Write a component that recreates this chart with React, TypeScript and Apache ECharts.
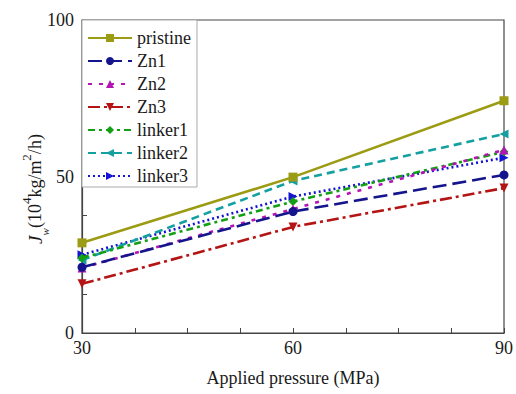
import React, { useEffect, useRef } from "react";
import * as echarts from "echarts";

const pressures = [30, 60, 90];
const seriesNames = ["pristine", "Zn1", "Zn2", "Zn3", "linker1", "linker2", "linker3"];
const pristine = [28.8, 49.8, 74.2];
const zn1 = [21.0, 38.8, 50.5];
const zn2 = [20.8, 39.6, 58.5];
const zn3 = [15.7, 33.9, 46.3];
const linker1 = [24.0, 42.0, 57.9];
const linker2 = [23.3, 48.6, 63.6];
const linker3 = [25.0, 43.6, 56.0];
const xTicks = [30, 60, 90];
const yTicks = [0, 50, 100];

const allValues = [pristine, zn1, zn2, zn3, linker1, linker2, linker3];
const colors = ["#9b9b14", "#14148c", "#b414b4", "#b41414", "#14a014", "#14a0a0", "#1414d2"];
const symbols = ["rect", "circle", "triangle", "path://M0,0 L10,0 L5,10 Z", "diamond", "path://M10,0 L10,10 L0,5 Z", "path://M0,0 L10,5 L0,10 Z"];
const dashes: any[] = ["solid", [14, 6], [4, 7], [12, 4, 3, 4], [7, 4, 3, 4], [8, 5], [2, 3]];

const FONT = "Liberation Serif";
const TXT = "#1a1a1a";

export default function App() {
  const ref = useRef<HTMLDivElement>(null);
  useEffect(() => {
    if (!ref.current) return;
    const chart = echarts.init(ref.current, null, { renderer: "svg" });
    chart.setOption({
      animation: false,
      backgroundColor: "#fff",
      textStyle: { fontFamily: FONT },
      grid: {
        left: 82,
        top: 20,
        right: 12,
        bottom: 61,
        show: true,
        borderColor: "#444",
        borderWidth: 1.2,
      },
      legend: {
        left: 82,
        top: 20,
        orient: "vertical",
        data: seriesNames,
        itemWidth: 44,
        itemHeight: 10,
        itemGap: 5,
        padding: [9, 6, 2, 5],
        borderColor: "#aaa",
        borderWidth: 1,
        backgroundColor: "#fff",
        textStyle: { fontFamily: FONT, fontSize: 18, color: TXT, lineHeight: 18 },
      },
      graphic: [
        {
          type: "text",
          x: 35,
          y: 189,
          rotation: Math.PI / 2,
          style: {
            text: "{i|J}{sub|w}{n|(10}{sup|4}{n|kg/m}{sup|2}{n|/h)}",
            align: "center",
            verticalAlign: "middle",
            fontFamily: FONT,
            fontSize: 18,
            fill: TXT,
            rich: {
              i: { fontFamily: FONT, fontSize: 19, fontStyle: "italic", lineHeight: 30, verticalAlign: "middle", fill: TXT },
              sub: { fontFamily: FONT, fontSize: 11, fontStyle: "italic", lineHeight: 30, verticalAlign: "bottom", fill: TXT },
              n: { fontFamily: FONT, fontSize: 18, lineHeight: 30, verticalAlign: "middle", fill: TXT },
              sup: { fontFamily: FONT, fontSize: 13, lineHeight: 30, verticalAlign: "top", fill: TXT },
            },
          },
        },
      ],
      xAxis: {
        type: "value",
        min: 30,
        max: 90,
        interval: 30,
        name: "Applied pressure (MPa)",
        nameLocation: "middle",
        nameGap: 36,
        nameTextStyle: { fontFamily: FONT, fontSize: 18, color: TXT },
        axisLine: { lineStyle: { color: "#444", width: 1.2 } },
        axisTick: { inside: true, length: 5, lineStyle: { color: "#444" } },
        minorTick: { show: true, splitNumber: 4, length: 5, lineStyle: { color: "#444" } },
        splitLine: { show: false },
        axisLabel: {
          fontFamily: FONT,
          fontSize: 18,
          color: TXT,
          margin: 6,
          formatter: (v: number) => (xTicks.includes(v) ? String(v) : ""),
        },
      },
      yAxis: {
        type: "value",
        min: 0,
        max: 100,
        interval: 50,
        axisLine: { show: true, lineStyle: { color: "#444", width: 1.2 } },
        axisTick: { inside: true, length: 5, lineStyle: { color: "#444" } },
        minorTick: { show: true, splitNumber: 4, length: 5, lineStyle: { color: "#444" } },
        splitLine: { show: false },
        axisLabel: {
          fontFamily: FONT,
          fontSize: 18,
          color: TXT,
          margin: 8,
          formatter: (v: number) => (yTicks.includes(v) ? String(v) : ""),
        },
      },
      series: seriesNames.map((name, i) => ({
        name,
        type: "line",
        data: pressures.map((p, j) => [p, allValues[i][j]]),
        symbol: symbols[i],
        symbolSize: 9,
        showAllSymbol: true,
        clip: true,
        z: 10 - i,
        itemStyle: { color: colors[i] },
        lineStyle: { color: colors[i], width: 2.6, type: dashes[i] },
      })),
    });
    return () => chart.dispose();
  }, []);
  return <div ref={ref} style={{ width: 516, height: 394, position: "fixed", left: 0, top: 0 }} />;
}
